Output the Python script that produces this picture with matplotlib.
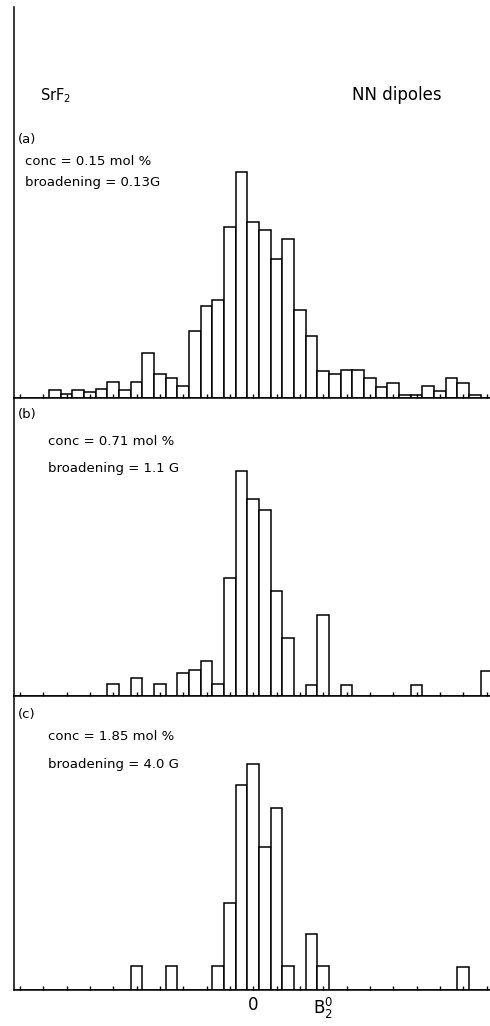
import numpy as np
import matplotlib
matplotlib.use("Agg")
import matplotlib.pyplot as plt

# bin index 0..40 (B2^0 axis, 0 sits at bin 20); heights
bins = np.arange(41)
counts_a = [0, 0, 0, 8.3, 4.3, 8.3, 6.3, 9, 16, 8.3, 16, 45.3, 24.3, 20, 11.7,
            67, 92.3, 98.3, 171.3, 226.3, 176.3, 168, 139, 159, 87.7, 62.3,
            27, 24, 27.7, 27.7, 19.7, 11.3, 15, 3, 3, 11.7, 7, 20, 14.7, 3, 0]
counts_b = [0, 0, 0, 0, 0, 0, 0, 0, 11.7, 0, 17.3, 0, 11.3, 0, 23, 26, 34.3,
            11.3, 118, 225, 196.7, 185.7, 105, 57.3, 0, 10.7, 81, 0, 10.7, 0,
            0, 0, 0, 0, 10.7, 0, 0, 0, 0, 0, 25]
counts_c = [0, 0, 0, 0, 0, 0, 0, 0, 0, 0, 24.3, 0, 0, 23.7, 0, 0, 0, 23.7,
            86.7, 205, 226, 143, 182, 24.3, 0, 56, 24, 0, 0, 0, 0, 0, 0, 0,
            0, 0, 0, 0, 23.3, 0, 0]

panel_tags = ["(a)", "(b)", "(c)"]
conc_text = ["conc = 0.15 mol %", "conc = 0.71 mol %", "conc = 1.85 mol %"]
broad_text = ["broadening = 0.13G", "broadening = 1.1 G", "broadening = 4.0 G"]

W, H = 490, 1026
fig = plt.figure(figsize=(W / 100, H / 100), dpi=100)


def px_axes(top, bottom):
    return fig.add_axes([14 / W, 1 - bottom / H, (W - 14) / W, (bottom - top) / H])


def fx(x):
    return x / W


def fy(y):
    return 1 - y / H


rows = [(7, 398, counts_a), (398, 695.7, counts_b), (695.7, 990, counts_c)]
axes = []
for top, bottom, c in rows:
    ax = px_axes(top, bottom)
    ax.bar(bins, c, width=1.0, facecolor="white", edgecolor="black", linewidth=1.1)
    ax.set_xlim(-0.51, 40.29)
    ax.set_ylim(0, bottom - top)
    for s in ["top", "right"]:
        ax.spines[s].set_visible(False)
    ax.spines["left"].set_linewidth(1.1)
    ax.spines["bottom"].set_linewidth(1.1)
    ax.set_yticks([])
    ax.set_xticks(bins[::2])
    ax.tick_params(axis="x", direction="in", length=3, width=1, labelbottom=False)
    ax.patch.set_alpha(0)
    axes.append(ax)

labels = [""] * len(bins[::2])
labels[10] = "0"
labels[13] = r"$\mathregular{B_2^0}$"
axes[2].set_xticklabels(labels, fontsize=12)
axes[2].tick_params(axis="x", labelbottom=True, pad=4)

fs = 9.5
fig.text(fx(40), fy(100), r"SrF$_\mathregular{2}$", fontsize=10.5, va="baseline")
fig.text(fx(352), fy(100), "NN dipoles", fontsize=12, va="baseline")

tag_y = [143, 418, 718]
conc_y = [165, 445, 740]
broad_y = [186, 472, 768]
tag_x = [18, 18, 18]
txt_x = [25, 48, 48]
for i in range(3):
    fig.text(fx(tag_x[i]), fy(tag_y[i]), panel_tags[i], fontsize=fs, va="baseline")
    fig.text(fx(txt_x[i]), fy(conc_y[i]), conc_text[i], fontsize=fs, va="baseline")
    fig.text(fx(txt_x[i]), fy(broad_y[i]), broad_text[i], fontsize=fs, va="baseline")

fig.savefig("out.png", dpi=100)
